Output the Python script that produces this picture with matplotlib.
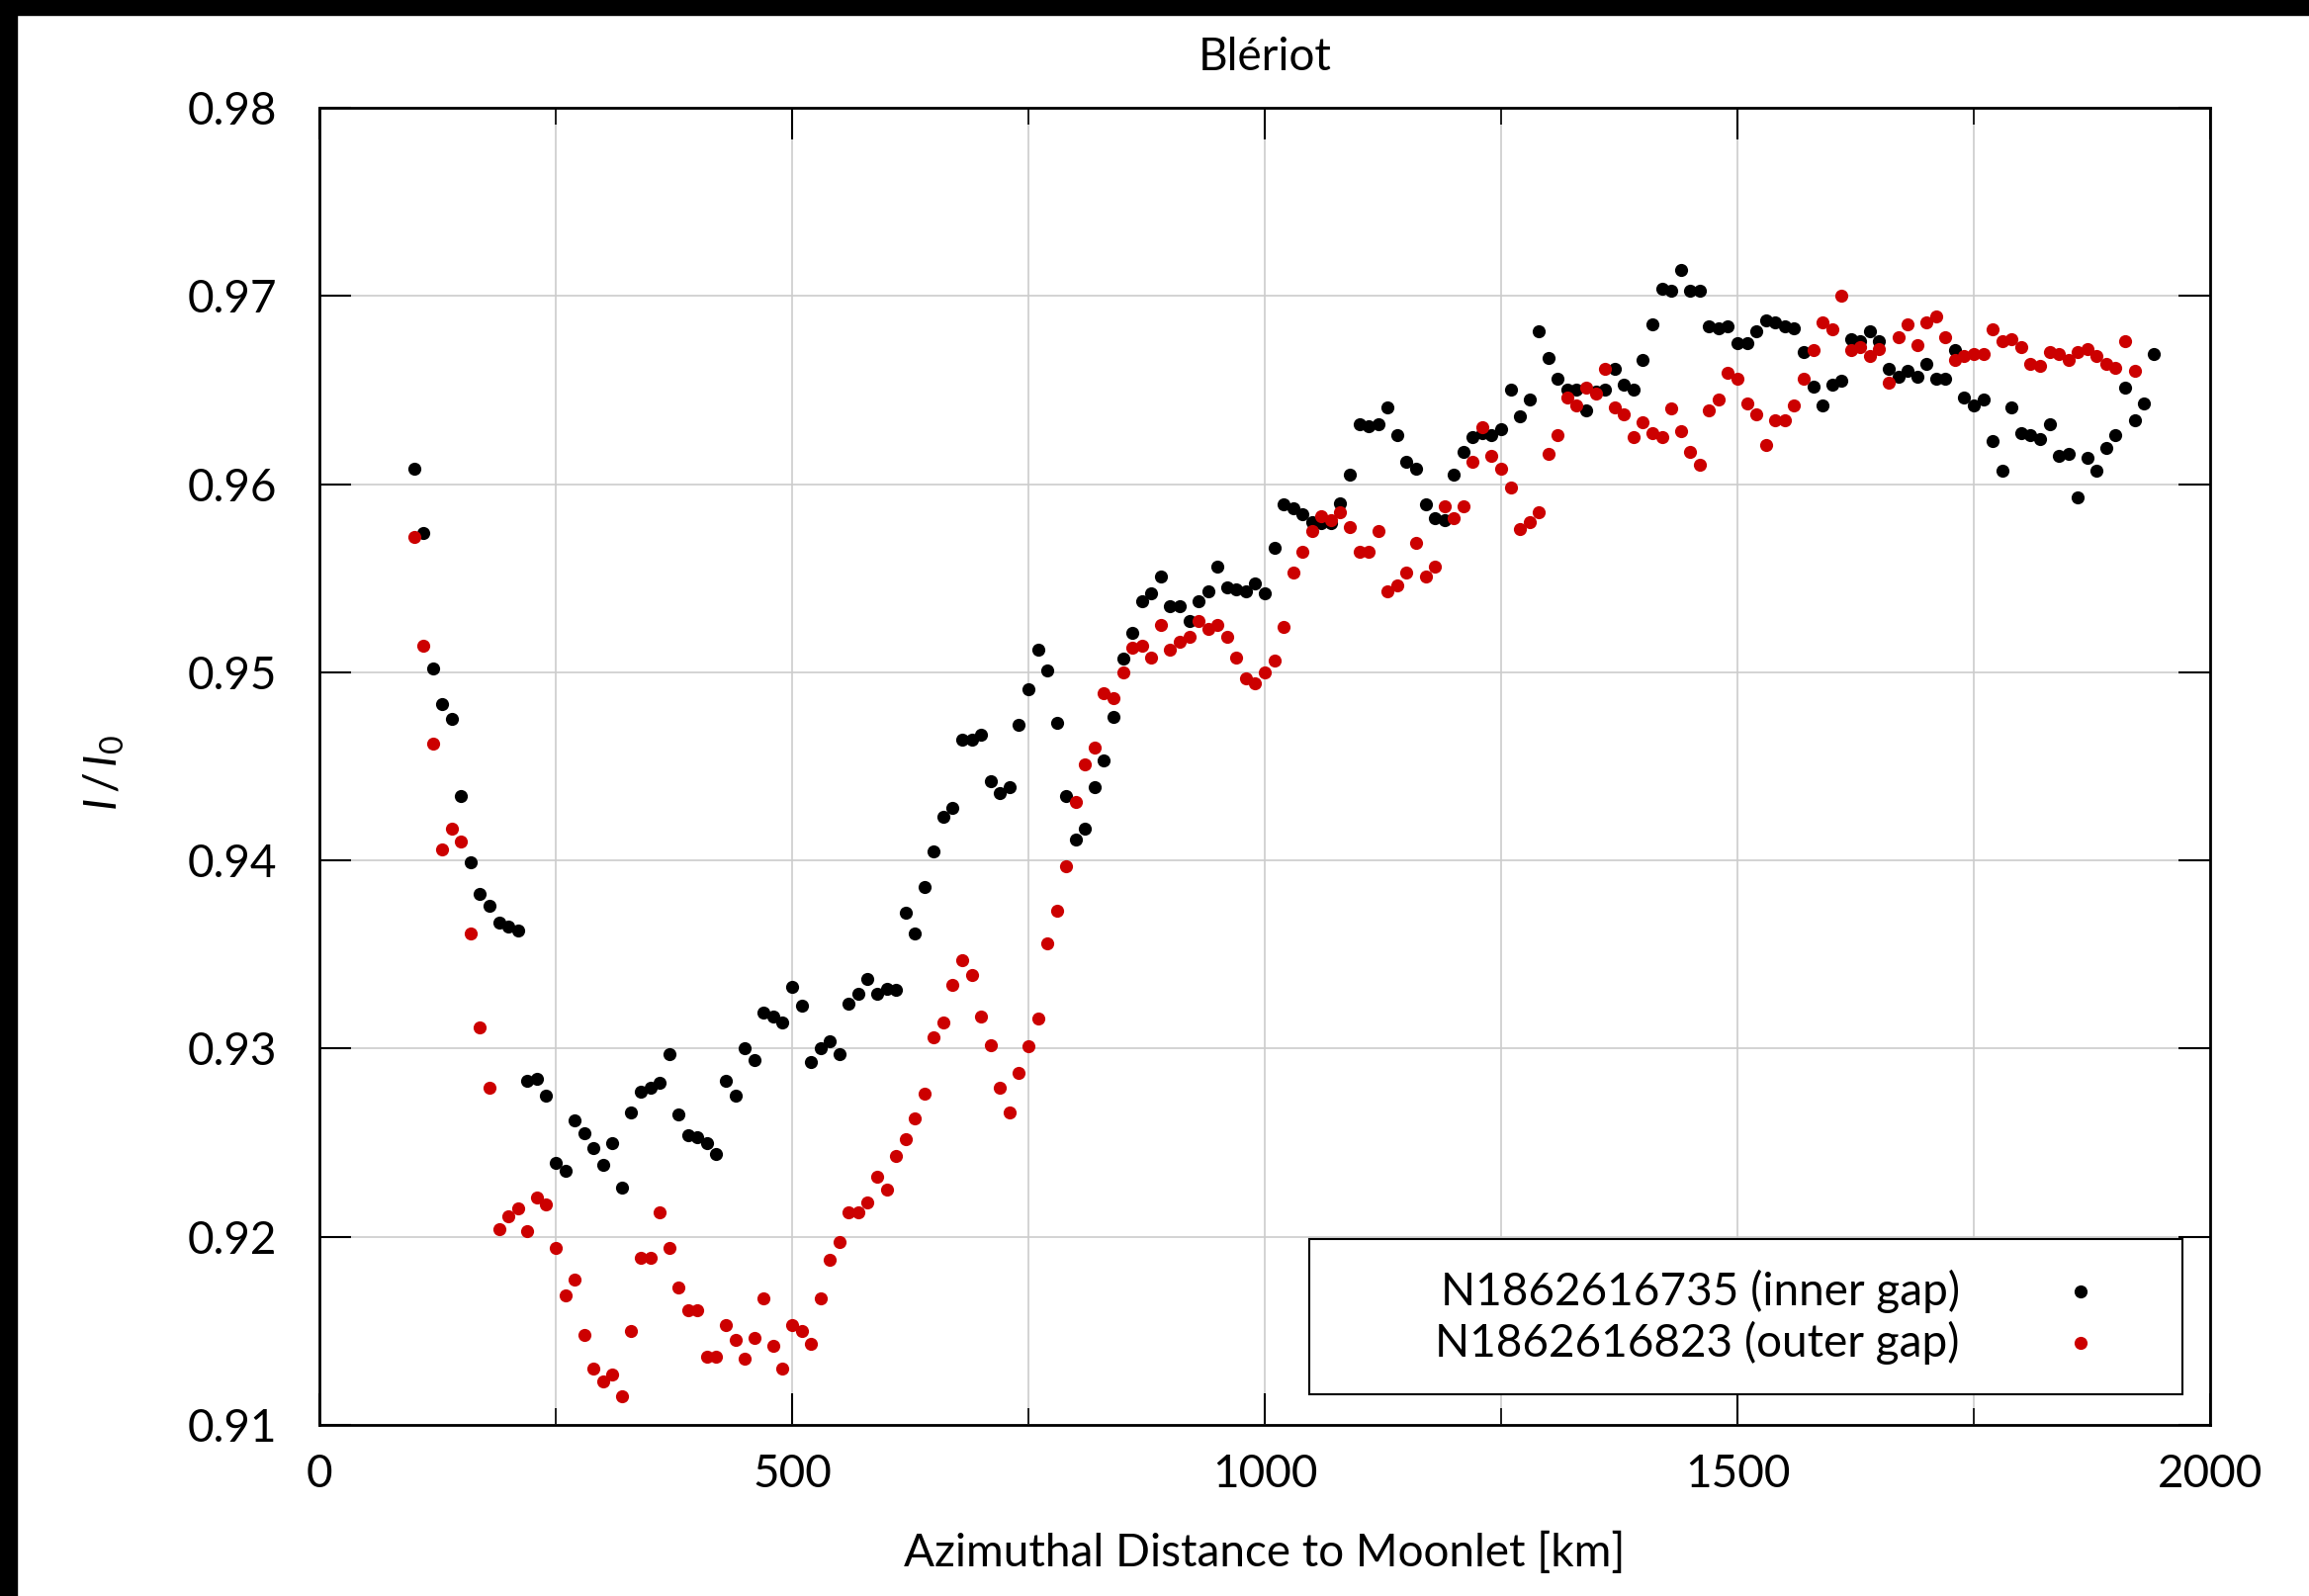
import numpy as np
import matplotlib
matplotlib.use('Agg')
import matplotlib.pyplot as plt
from matplotlib.patches import Rectangle
from matplotlib.ticker import MultipleLocator

#--font setting--
plt.rcParams['font.family'] = ['Lato', 'DejaVu Sans']
plt.rcParams['mathtext.fontset'] = 'custom'
plt.rcParams['mathtext.rm'] = 'Lato'
plt.rcParams['mathtext.it'] = 'Lato:italic'
fsize = 33

#--data: azimuthal distance [km] and normalised brightness I/I0--
dist_inner = [100, 110, 120, 130, 140, 150, 160, 170, 180, 190,
              200, 210, 220, 230, 240, 250, 260, 270, 280, 290,
              300, 310, 320, 330, 340, 350, 360, 370, 380, 390,
              400, 410, 420, 430, 440, 450, 460, 470, 480, 490,
              500, 510, 520, 530, 540, 550, 560, 570, 580, 590,
              600, 610, 620, 630, 640, 650, 660, 670, 680, 690,
              700, 710, 720, 730, 740, 750, 760, 770, 780, 790,
              800, 810, 820, 830, 840, 850, 860, 870, 880, 890,
              900, 910, 920, 930, 940, 950, 960, 970, 980, 990,
              1000, 1010, 1020, 1030, 1040, 1050, 1060, 1070, 1080, 1090,
              1100, 1110, 1120, 1130, 1140, 1150, 1160, 1170, 1180, 1190,
              1200, 1210, 1220, 1230, 1240, 1250, 1260, 1270, 1280, 1290,
              1300, 1310, 1320, 1330, 1340, 1350, 1360, 1370, 1380, 1390,
              1400, 1410, 1420, 1430, 1440, 1450, 1460, 1470, 1480, 1490,
              1500, 1510, 1520, 1530, 1540, 1550, 1560, 1570, 1580, 1590,
              1600, 1610, 1620, 1630, 1640, 1650, 1660, 1670, 1680, 1690,
              1700, 1710, 1720, 1730, 1740, 1750, 1760, 1770, 1780, 1790,
              1800, 1810, 1820, 1830, 1840, 1850, 1860, 1870, 1880, 1890,
              1900, 1910, 1920, 1930, 1940]
ratio_inner = [0.9608, 0.9574, 0.9502, 0.9483, 0.9475, 0.9434, 0.9399, 0.9382, 0.9376, 0.9367,
               0.9365, 0.9363, 0.9283, 0.9284, 0.9275, 0.9239, 0.9235, 0.9262, 0.9255, 0.9247,
               0.9238, 0.9250, 0.9226, 0.9266, 0.9277, 0.9279, 0.9282, 0.9297, 0.9265, 0.9254,
               0.9253, 0.9250, 0.9244, 0.9283, 0.9275, 0.9300, 0.9294, 0.9319, 0.9317, 0.9314,
               0.9333, 0.9323, 0.9293, 0.9300, 0.9304, 0.9297, 0.9324, 0.9329, 0.9337, 0.9329,
               0.9332, 0.9331, 0.9372, 0.9361, 0.9386, 0.9405, 0.9423, 0.9428, 0.9464, 0.9464,
               0.9467, 0.9442, 0.9436, 0.9439, 0.9472, 0.9491, 0.9512, 0.9501, 0.9473, 0.9434,
               0.9411, 0.9417, 0.9439, 0.9453, 0.9476, 0.9507, 0.9521, 0.9538, 0.9542, 0.9551,
               0.9535, 0.9535, 0.9527, 0.9538, 0.9543, 0.9556, 0.9545, 0.9544, 0.9543, 0.9547,
               0.9542, 0.9566, 0.9589, 0.9587, 0.9584, 0.9580, 0.9579, 0.9579, 0.9590, 0.9605,
               0.9632, 0.9631, 0.9632, 0.9641, 0.9626, 0.9612, 0.9608, 0.9589, 0.9582, 0.9581,
               0.9605, 0.9617, 0.9625, 0.9627, 0.9626, 0.9629, 0.9650, 0.9636, 0.9645, 0.9681,
               0.9667, 0.9656, 0.9650, 0.9650, 0.9639, 0.9649, 0.9650, 0.9661, 0.9653, 0.9650,
               0.9666, 0.9685, 0.9704, 0.9703, 0.9714, 0.9703, 0.9703, 0.9684, 0.9683, 0.9684,
               0.9675, 0.9675, 0.9681, 0.9687, 0.9686, 0.9684, 0.9683, 0.9670, 0.9652, 0.9642,
               0.9653, 0.9655, 0.9677, 0.9676, 0.9681, 0.9676, 0.9661, 0.9657, 0.9660, 0.9657,
               0.9664, 0.9656, 0.9656, 0.9671, 0.9646, 0.9642, 0.9645, 0.9623, 0.9607, 0.9641,
               0.9627, 0.9626, 0.9624, 0.9632, 0.9615, 0.9616, 0.9593, 0.9614, 0.9607, 0.9619,
               0.9626, 0.9651, 0.9634, 0.9643, 0.9669]

dist_outer = [100, 110, 120, 130, 140, 150, 160, 170, 180, 190,
              200, 210, 220, 230, 240, 250, 260, 270, 280, 290,
              300, 310, 320, 330, 340, 350, 360, 370, 380, 390,
              400, 410, 420, 430, 440, 450, 460, 470, 480, 490,
              500, 510, 520, 530, 540, 550, 560, 570, 580, 590,
              600, 610, 620, 630, 640, 650, 660, 670, 680, 690,
              700, 710, 720, 730, 740, 750, 760, 770, 780, 790,
              800, 810, 820, 830, 840, 850, 860, 870, 880, 890,
              900, 910, 920, 930, 940, 950, 960, 970, 980, 990,
              1000, 1010, 1020, 1030, 1040, 1050, 1060, 1070, 1080, 1090,
              1100, 1110, 1120, 1130, 1140, 1150, 1160, 1170, 1180, 1190,
              1200, 1210, 1220, 1230, 1240, 1250, 1260, 1270, 1280, 1290,
              1300, 1310, 1320, 1330, 1340, 1350, 1360, 1370, 1380, 1390,
              1400, 1410, 1420, 1430, 1440, 1450, 1460, 1470, 1480, 1490,
              1500, 1510, 1520, 1530, 1540, 1550, 1560, 1570, 1580, 1590,
              1600, 1610, 1620, 1630, 1640, 1650, 1660, 1670, 1680, 1690,
              1700, 1710, 1720, 1730, 1740, 1750, 1760, 1770, 1780, 1790,
              1800, 1810, 1820, 1830, 1840, 1850, 1860, 1870, 1880, 1890,
              1900, 1910, 1920]
ratio_outer = [0.9572, 0.9514, 0.9462, 0.9406, 0.9417, 0.9410, 0.9361, 0.9311, 0.9279, 0.9204,
               0.9211, 0.9215, 0.9203, 0.9221, 0.9217, 0.9194, 0.9169, 0.9177, 0.9148, 0.9130,
               0.9123, 0.9127, 0.9115, 0.9150, 0.9189, 0.9189, 0.9213, 0.9194, 0.9173, 0.9161,
               0.9161, 0.9136, 0.9136, 0.9153, 0.9145, 0.9135, 0.9146, 0.9167, 0.9142, 0.9130,
               0.9153, 0.9150, 0.9143, 0.9167, 0.9188, 0.9197, 0.9213, 0.9213, 0.9218, 0.9232,
               0.9225, 0.9243, 0.9252, 0.9263, 0.9276, 0.9306, 0.9314, 0.9334, 0.9347, 0.9339,
               0.9317, 0.9302, 0.9279, 0.9266, 0.9287, 0.9301, 0.9316, 0.9356, 0.9373, 0.9397,
               0.9431, 0.9451, 0.9460, 0.9489, 0.9486, 0.9500, 0.9513, 0.9514, 0.9508, 0.9525,
               0.9512, 0.9516, 0.9519, 0.9527, 0.9523, 0.9525, 0.9519, 0.9508, 0.9497, 0.9494,
               0.9500, 0.9506, 0.9524, 0.9553, 0.9564, 0.9575, 0.9583, 0.9581, 0.9585, 0.9577,
               0.9564, 0.9564, 0.9575, 0.9543, 0.9546, 0.9553, 0.9569, 0.9551, 0.9556, 0.9588,
               0.9582, 0.9588, 0.9612, 0.9630, 0.9615, 0.9608, 0.9598, 0.9576, 0.9580, 0.9585,
               0.9616, 0.9626, 0.9646, 0.9642, 0.9651, 0.9648, 0.9661, 0.9641, 0.9637, 0.9625,
               0.9633, 0.9627, 0.9625, 0.9640, 0.9628, 0.9617, 0.9610, 0.9639, 0.9645, 0.9659,
               0.9656, 0.9643, 0.9637, 0.9621, 0.9634, 0.9634, 0.9642, 0.9656, 0.9671, 0.9686,
               0.9682, 0.9700, 0.9671, 0.9673, 0.9668, 0.9672, 0.9654, 0.9678, 0.9685, 0.9674,
               0.9686, 0.9689, 0.9678, 0.9666, 0.9668, 0.9669, 0.9669, 0.9682, 0.9676, 0.9677,
               0.9673, 0.9664, 0.9663, 0.9670, 0.9669, 0.9666, 0.9670, 0.9672, 0.9668, 0.9664,
               0.9662, 0.9676, 0.9660]

label_inner = 'N1862616735 (inner gap)'
label_outer = 'N1862616823 (outer gap)'
col_inner = '#000000'
col_outer = '#cc0000'

fig = plt.figure(figsize=(23.35, 16.14), dpi=100)
ax = fig.add_axes([0.1383, 0.1072, 0.8189, 0.8253])

# black frame strips on the left and top edge of the image
fig.patches.append(Rectangle((0, 0), 17 / 2335, 1, transform=fig.transFigure,
                             color='black', zorder=10))
fig.patches.append(Rectangle((0, 1 - 15 / 1614), 1, 15 / 1614, transform=fig.transFigure,
                             color='black', zorder=10))

ax.plot(dist_inner, ratio_inner, 'o', color=col_inner, ms=9.5, mew=0, zorder=3)
ax.plot(dist_outer, ratio_outer, 'o', color=col_outer, ms=9.5, mew=0, zorder=3)

ax.set_xlim(0, 2000)
ax.set_ylim(0.91, 0.98)
ax.xaxis.set_major_locator(MultipleLocator(500))
ax.xaxis.set_minor_locator(MultipleLocator(250))
ax.yaxis.set_major_locator(MultipleLocator(0.01))
ax.yaxis.set_major_formatter(plt.FuncFormatter(lambda v, p: '{:.2f}'.format(v)))

ax.grid(True, which='both', axis='x', color='#cccccc', lw=1.2, zorder=0)
ax.grid(True, which='major', axis='y', color='#cccccc', lw=1.2, zorder=0)
ax.set_axisbelow(True)

ax.tick_params(which='major', direction='in', length=23, width=1.5,
               top=True, right=True, labelsize=fsize, colors='black')
ax.tick_params(which='minor', direction='in', length=12, width=1.2,
               top=True, right=True)
ax.tick_params(axis='x', which='major', pad=21)
ax.tick_params(axis='y', which='major', pad=31)
for s in ax.spines.values():
    s.set_linewidth(2.0)

ax.set_title('Blériot', fontsize=fsize, pad=27)
ax.set_xlabel('Azimuthal Distance to Moonlet [km]', fontsize=fsize)
ax.xaxis.set_label_coords(0.5, -0.097)
ax.xaxis.label.set_va('center')
ax.set_ylabel(r'$I\,/\,I_0$', fontsize=fsize)
ax.yaxis.set_label_coords(-0.114, 0.495)
ax.yaxis.label.set_va('center')

# key box, text right-aligned with the marker after it
ax.add_patch(Rectangle((0.5234, 0.0235), 0.4618, 0.1173, transform=ax.transAxes,
                       fill=True, facecolor='white', edgecolor='black', lw=1.5, zorder=5))
for yk, lab, col in [(0.1017, label_inner, col_inner), (0.0626, label_outer, col_outer)]:
    ax.text(0.8676, yk, lab, transform=ax.transAxes, ha='right', va='center',
            fontsize=fsize, zorder=6)
    ax.plot([0.9315], [yk], 'o', color=col, ms=9.5, mew=0, transform=ax.transAxes,
            zorder=6, clip_on=False)

fig.savefig('out.png', dpi=100)
